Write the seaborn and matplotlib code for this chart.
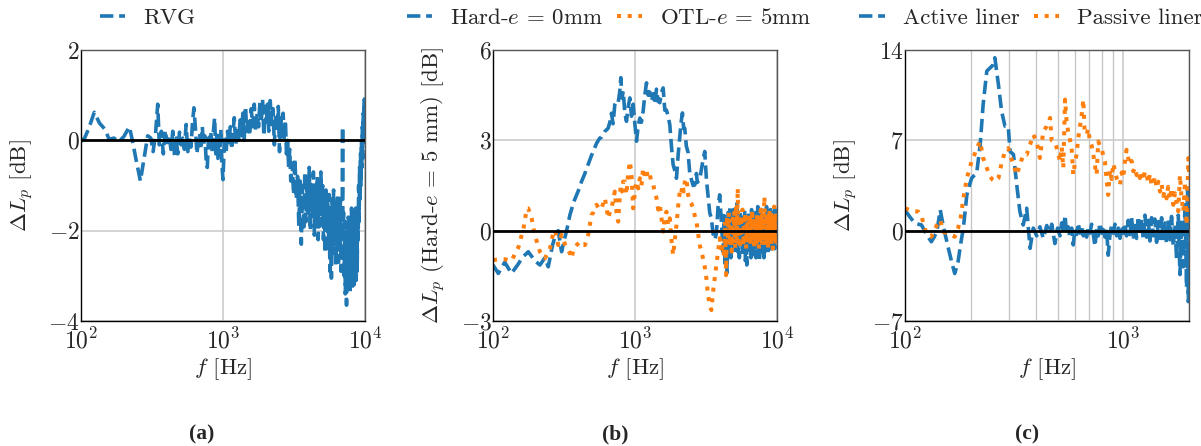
import matplotlib
matplotlib.use("Agg")
import matplotlib.pyplot as plt
import seaborn as sns
from matplotlib.ticker import NullFormatter, FixedLocator

# ---------------- data ----------------
FREQ_A = [
    100, 106, 113, 124, 135, 147, 158, 170, 185, 200,
    219, 230, 245, 262, 278, 295, 310, 322, 335, 347,
    356, 368, 380, 392, 405, 418, 430, 443, 456, 468,
    480, 494, 507, 520, 535, 550, 565, 580, 595, 610,
    624, 640, 655, 670, 685, 700, 715, 730, 745, 760,
    775, 790, 805, 820, 835, 850, 873, 890, 905, 920,
    935, 950, 965, 980, 1000,
    1025, 1050, 1075, 1100, 1125, 1150, 1175, 1200, 1230, 1260,
    1290, 1320, 1350, 1380, 1410, 1440, 1470, 1500, 1540, 1580,
    1620, 1660, 1700, 1740, 1780, 1820, 1860, 1900, 1940, 1980,
    2020, 2060, 2100, 2150, 2200, 2250, 2300, 2350, 2400, 2450,
    2500, 2550, 2600, 2650, 2700, 2750, 2800, 2850, 2900, 2950,
    3000,
    3070, 3140, 3210, 3280, 3350, 3420, 3490, 3560, 3630, 3700,
    3770, 3840, 3910, 3980, 4050, 4120, 4190, 4260, 4330, 4400,
    4470, 4540, 4610, 4680, 4750, 4820, 4890, 4960, 5030, 5100,
    5170, 5240, 5310, 5380, 5450, 5520, 5590, 5660, 5730, 5800,
    5870, 5940, 6010, 6080, 6150, 6220, 6290, 6360, 6430, 6500,
    6570, 6640, 6710, 6780, 6850, 6920, 6955, 6990, 7060, 7130,
    7200, 7270, 7340, 7410, 7480, 7550, 7620, 7690, 7760, 7830,
    7900, 7970, 8040, 8110, 8180, 8250, 8320, 8390, 8460, 8530,
    8600, 8670, 8740, 8810, 8880, 8950, 9020, 9090, 9160, 9230,
    9300, 9370, 9440, 9510, 9580, 9650, 9720, 9790, 9860, 9930,
    10000,
]
DLP_RVG = [
    -0.02, 0.05, 0.25, 0.62, 0.38, 0.25, 0.02, 0.05, -0.02, 0.08,
    0.3, 0.0, -0.45, -0.9, -0.4, 0.1, 0.05, -0.25, 0.15, 0.8,
    -0.1, 0.2, -0.3, 0.22, -0.05, 0.1, -0.2, 0.2, -0.35, 0.05,
    -0.3, 0.18, -0.1, 0.05, -0.2, 0.35, -0.25, 0.1, -0.15, 0.4,
    0.72, 0.25, -0.3, 0.0, 0.15, -0.2, 0.3, -0.1, 0.1, -0.4,
    -0.6, 0.05, -0.15, 0.2, -0.25, 0.1, 0.5, -0.3, 0.15, -0.4,
    0.1, -0.2, 0.25, -0.5, -0.87,
    0.1, -0.3, 0.2, -0.1, 0.3, -0.2, 0.15, 0.5, -0.1, 0.3,
    0.0, 0.45, 0.1, 0.6, 0.0, 0.75, 0.2, 0.5, 0.1, 0.7,
    0.3, 0.8, 0.2, 0.6, 0.3, 0.85, 0.4, 0.9, 0.1, 0.75,
    0.4, 0.8, 0.2, 0.88, 0.35, 0.7, -0.1, 0.6, 0.2, 0.75,
    -0.25, 0.5, 0.1, 0.6, 0.0, 0.45, -0.3, 0.0, -0.6, -0.2,
    -0.9,
    -0.5, -1.2, -0.4, -1.3, -0.8, -1.9, -0.9, -2.3, -1.0, -2.0,
    -0.7, -1.8, -0.9, -1.6, -0.6, -2.0, -1.0, -1.7, -0.7, -2.1,
    -1.1, -1.8, -0.8, -2.2, -1.0, -1.9, -0.7, -1.6, -1.0, -2.2,
    -1.2, -2.5, -1.1, -2.0, -1.3, -2.4, -1.2, -2.9, -1.5, -3.05,
    -1.3, -2.5, -1.1, -2.3, -1.4, -2.8, -1.6, -2.5, -1.2, -2.7,
    -1.5, -2.3, -1.3, -2.9, -1.6, -1.2, 0.3, -2.0, -1.6, -3.0,
    -1.8, -3.4, -2.2, -3.65, -2.0, -3.2, -1.7, -3.0, -1.9, -3.4,
    -2.0, -3.1, -1.5, -3.3, -2.1, -2.9, -1.6, -3.2, -1.9, -3.0,
    -1.5, -3.1, -1.9, -2.9, -1.5, -2.2, -1.0, -1.8, -0.6, -1.3,
    -0.3, -1.0, 0.0, -0.6, 0.3, -0.4, 0.6, 0.1, 0.9, 0.4,
    0.95,
]

FREQ_B = [
    100, 109, 121, 135, 151, 158, 164, 173, 177, 187,
    197, 214, 232, 245, 252, 262, 273, 288, 304, 318,
    330, 348, 357, 370, 388, 409, 420, 444, 456, 468,
    494, 508, 536, 566, 581, 614, 647, 665, 683, 700,
    721, 741, 761, 780, 795, 810, 826, 848, 871, 895,
    920, 945, 971, 1000, 1025, 1054, 1082, 1110, 1141, 1173,
    1205, 1238, 1272, 1307, 1343, 1380, 1417, 1456, 1495, 1536,
    1578, 1622, 1666, 1712, 1758, 1806, 1856, 1907, 1959, 2012,
    2067, 2112, 2158, 2200, 2241, 2300, 2365, 2430, 2496, 2565,
    2636, 2708, 2745, 2858, 2975, 3098, 3184, 3260, 3359, 3452,
    3545, 3640, 3741, 3845, 3949, 4060, 4170,
    4240, 4310, 4380, 4450, 4520, 4590, 4660, 4730, 4800, 4870,
    4940, 5010, 5080, 5150, 5220, 5290, 5360, 5430, 5500, 5570,
    5640, 5710, 5780, 5850, 5920, 5990, 6060, 6130, 6200, 6270,
    6340, 6410, 6480, 6550, 6620, 6690, 6760, 6830, 6900, 6970,
    7040, 7110, 7180, 7250, 7320, 7390, 7460, 7530, 7600, 7670,
    7740, 7810, 7880, 7950, 8020, 8090, 8160, 8230, 8300, 8370,
    8440, 8510, 8580, 8650, 8720, 8790, 8860, 8930, 9000, 9070,
    9140, 9210, 9280, 9350, 9420, 9490, 9560, 9630, 9700, 9770,
    9840, 9910, 9980, 10000,
]
DLP_HARD = [
    -1.14, -1.42, -1.05, -1.42, -1.1, -0.95, -0.85, -0.75, -0.7, -0.85,
    -1.0, -1.14, -0.9, -1.2, -0.9, -0.5, -0.2, 0.0, -0.7, -0.3,
    0.0, 0.52, 0.7, 0.95, 1.19, 1.45, 1.63, 1.9, 2.08, 2.2,
    2.5, 2.63, 2.9, 3.08, 3.1, 3.3, 3.4, 3.6, 3.9, 3.55,
    4.19, 4.3, 4.25, 4.6, 5.08, 4.4, 4.63, 3.9, 3.63, 4.1,
    4.41, 3.8, 4.2, 3.5, 2.97, 3.5, 3.74, 3.6, 3.97, 4.5,
    4.91, 4.5, 4.6, 4.3, 4.55, 4.2, 4.7, 4.3, 4.25, 4.6,
    4.74, 4.0, 4.0, 3.8, 3.52, 2.8, 2.19, 2.0, 1.74, 2.5,
    3.1, 3.6, 3.91, 3.4, 3.4, 2.8, 2.6, 1.9, 1.7, 1.5,
    1.52, 1.9, 1.6, 1.7, 2.2, 2.63, 1.7, 1.2, 0.6, 0.4,
    -0.1, -0.3, -0.1, 0.8, 1.19, 0.3, -0.7,
    0.5, -1.2, 0.2, -1.4, 0.6, -0.6, 0.8, -0.9, 0.3, -0.5,
    0.7, -0.8, 0.4, -0.6, 0.9, -0.7, 0.2, -0.9, 0.6, -0.4,
    0.5, -0.8, 0.3, -0.6, 0.7, -1.0, 0.4, -1.14, 0.5, -0.7,
    0.6, -0.5, 0.3, -0.9, 0.7, -0.6, 0.4, -0.8, 0.2, -0.5,
    0.6, -0.9, 0.3, -0.7, 0.8, -0.4, 0.5, -1.0, 0.3, -0.6,
    0.7, -0.8, 0.4, -0.5, 0.6, -0.9, 0.2, -0.7, 0.5, -0.4,
    0.8, -0.6, 0.3, -0.8, 0.6, -0.5, 0.4, -0.7, 0.7, -0.3,
    0.5, -0.6, 0.4, -0.5, 0.6, -0.4, 0.3, -0.6, 0.7, -0.3,
    0.5, -0.4, 0.4, 0.2,
]
DLP_OTL = [
    -0.98, -0.95, -0.95, -1.0, -0.55, -0.2, 0.08, 0.74, 0.74, 0.41,
    -0.14, -0.7, -0.92, -0.7, -0.59, -0.2, 0.02, -0.48, -0.14, -0.4,
    -0.59, -0.75, -0.92, -0.6, -0.48, -0.37, -0.45, -0.48, -0.3, -0.14,
    0.52, 0.6, 0.86, 0.7, 0.74, 1.08, 0.41, 0.6, 0.74, 1.0,
    1.3, 0.6, 0.3, 1.1, 1.52, 1.3, 1.63, 1.63, 1.2, 1.9,
    2.3, 1.86, 0.74, 1.3, 1.63, 1.4, 1.74, 1.5, 2.08, 1.8,
    1.97, 1.75, 1.86, 1.6, 1.52, 1.3, 1.08, 0.7, 0.86, 0.4,
    -0.03, 0.5, 0.63, 0.2, 0.41, -0.3, -0.81, -0.3, 0.19, 0.8,
    1.3, 1.2, 1.52, 1.3, 1.6, 1.74, 1.2, 0.97, 0.9, 0.74,
    0.5, 0.3, 0.1, -0.48, -0.8, -1.2, -1.59, -2.1, -2.48, -2.64,
    -2.03, -1.6, -1.14, -0.7, -0.25, -0.6, -0.48,
    -0.9, 0.3, -1.48, 0.5, -0.3, 0.6, -0.5, 0.2, -0.7, 0.4,
    -0.2, 0.6, -0.6, 0.9, -0.3, 1.41, -0.4, 0.5, -0.6, 0.3,
    -0.2, 0.7, -0.5, 0.4, -0.3, 0.6, -0.6, 0.2, -0.4, 0.5,
    -0.2, 0.6, -0.5, 0.3, -0.3, 0.7, -0.4, 0.4, -0.6, 0.2,
    -0.3, 0.5, -0.5, 0.6, -0.2, 0.4, -0.6, 0.3, -0.4, 0.7,
    -0.3, 0.5, -0.5, 0.4, -0.2, 0.6, 1.13, -0.4, 0.3, -0.5,
    0.6, -0.3, 0.4, -0.6, 0.5, -0.2, 0.7, -0.4, 0.3, -0.5,
    0.6, -0.3, 0.4, -0.6, 0.5, -0.2, 0.8, -0.4, 0.3, -0.5,
    0.6, -0.3, 0.5, 0.2,
]

FREQ_C = [
    100, 105, 111, 115, 119, 126, 132, 136, 140, 145,
    150, 158, 164, 169, 175, 180, 185, 192, 198, 202,
    208, 213, 221, 228, 237, 245, 252, 258, 268, 277,
    287, 297, 303, 314, 325, 336, 348,
    361, 374, 387, 401, 415, 430, 446, 462, 470, 486,
    500, 513, 522, 531, 541, 550, 559, 570, 580, 590,
    600, 611, 622, 633, 645, 656, 665, 679, 691, 703,
    716, 729, 742, 755, 768, 781, 795, 810, 824, 838,
    853, 869, 884, 900, 916, 932, 949, 966, 983, 1000,
    1018, 1035, 1054, 1073, 1092, 1111, 1131, 1151, 1171, 1192,
    1213, 1235, 1257, 1279, 1302, 1325, 1348, 1372, 1396, 1421,
    1446, 1472, 1498, 1524, 1551, 1578, 1606, 1635, 1664, 1694,
    1724, 1754, 1786, 1818, 1850, 1884, 1917, 1950, 1970, 1986,
    2000,
]
DLP_ACTIVE = [
    1.6, 1.09, 0.57, 0.5, 0.44, -0.34, -0.86, -0.5, -0.08, 1.61,
    0.31, -1.37, -2.5, -3.32, -2.41, -1.0, 0.18, 2.77, 3.6, 4.07,
    4.3, 4.46, 6.66, 9.77, 12.37, 12.6, 12.8, 13.4, 11.3, 9.26,
    8.1, 8.1, 6.14, 5.9, 3.55, 1.48, 0.44,
    1.74, -1.37, 0.2, -0.4, 0.3, -0.6, 0.4, -0.2, 0.5, -1.0,
    0.2, -0.4, 0.6, -0.2, 1.2, -0.3, 0.3, -0.5, 0.2, -1.1,
    0.1, -0.3, 0.6, -0.2, 0.4, -0.4, 0.2, -0.5, 0.3, -0.2,
    0.5, -0.3, -1.2, 0.2, -0.4, 0.6, -0.2, 0.3, -0.5, 0.2,
    -1.9, -0.3, 0.4, -0.2, 0.5, -0.4, 0.2, -0.6, 0.4, -0.2,
    0.6, -0.4, 0.8, -0.3, 1.0, -0.5, 0.7, -0.6, 1.1, -0.4,
    0.9, -0.7, 1.2, -0.5, 0.8, -0.8, 1.0, -0.4, 0.9, -0.9,
    0.7, -0.6, 1.0, -0.8, 0.6, -1.0, 0.8, -0.7, 1.1, -1.2,
    0.5, -2.2, 1.2, -3.4, 0.8, -2.8, 2.0, -4.4, 3.3, -5.5,
    -2.0,
]
DLP_PASSIVE = [
    1.74, 1.6, 1.5, 1.48, 1.1, -0.34, -0.47, 0.0, 0.44, 0.83,
    -0.1, -0.2, -0.35, -0.47, 0.18, 1.0, 2.51, 4.07, 4.85, 5.4,
    5.89, 6.4, 6.92, 5.63, 4.85, 4.2, 3.94, 3.81, 4.07, 5.24,
    6.14, 6.4, 5.89, 5.1, 4.33, 5.1, 5.89,
    5.89, 6.66, 7.44, 6.9, 5.63, 7.7, 8.09, 8.74, 7.0, 6.9,
    6.2, 5.37, 6.5, 4.85, 10.16, 8.48, 7.7, 7.0, 6.4, 4.33,
    5.2, 5.9, 7.2, 8.09, 9.0, 10.16, 7.7, 7.44, 7.9, 6.9,
    6.6, 5.89, 5.0, 4.33, 6.92, 6.6, 6.4, 5.8, 5.37, 4.0,
    2.77, 4.7, 4.0, 5.2, 4.6, 4.07, 3.7, 3.55, 4.5, 4.07,
    5.4, 6.27, 5.6, 5.1, 5.4, 4.6, 4.9, 4.3, 4.6, 4.07,
    4.5, 3.9, 4.6, 4.33, 3.7, 4.4, 3.5, 3.55, 4.2, 3.3,
    3.8, 3.03, 3.6, 2.7, 3.1, 2.5, 3.4, 2.4, 3.3, 2.0,
    2.9, 2.2, 1.5, 4.3, 2.5, 1.48, 3.8, 0.44, 3.0, 5.63,
    4.5,
]

YTICKS_A = [-4, -2, 0, 2]
YTICKS_B = [-3, 0, 3, 6]
YTICKS_C = [-7, 0, 7, 14]
XLIM_A = (100, 10000)
XLIM_B = (100, 10000)
XLIM_C = (100, 2000)

LABEL_RVG = "RVG"
LABEL_HARD = r"Hard-$e$ = 0mm"
LABEL_OTL = r"OTL-$e$ = 5mm"
LABEL_ACTIVE = "Active liner"
LABEL_PASSIVE = "Passive liner"
YLABEL_A = r"$\Delta L_p$ [dB]"
YLABEL_B = r"$\Delta L_p$ (Hard-$e$ = 5 mm) [dB]"
YLABEL_C = r"$\Delta L_p$ [dB]"
XLABEL = r"$f$ [Hz]"
SUBCAPTIONS = ["(a)", "(b)", "(c)"]

# ---------------- style ----------------
sns.set_theme(style="white")
plt.rcParams.update({
    "font.family": ["cmr10", "DejaVu Serif"],
    "mathtext.fontset": "cm",
    "axes.formatter.use_mathtext": True,
    "axes.unicode_minus": True,
    "font.size": 16.5,
})

BLUE = "#1f77b4"
ORANGE = "#ff7f0e"
W, H = 1201, 446
fig = plt.figure(figsize=(W / 100, H / 100), dpi=100)

lefts = [81, 493, 905]
ax_w, top, bottom = 284, 50, 321
axes = [fig.add_axes([l / W, 1 - bottom / H, ax_w / W, (bottom - top) / H]) for l in lefts]
ax_a, ax_b, ax_c = axes


def plot_series(ax, f, v, color, ls, label):
    lw = 2.6 if ls == "--" else 2.9
    sns.lineplot(x=f, y=v, ax=ax, color=color, linestyle=ls, linewidth=lw,
                 label=label, estimator=None, sort=False, zorder=2)


plot_series(ax_a, FREQ_A, DLP_RVG, BLUE, "--", LABEL_RVG)
plot_series(ax_b, FREQ_B, DLP_HARD, BLUE, "--", LABEL_HARD)
plot_series(ax_b, FREQ_B, DLP_OTL, ORANGE, ":", LABEL_OTL)
plot_series(ax_c, FREQ_C, DLP_ACTIVE, BLUE, "--", LABEL_ACTIVE)
plot_series(ax_c, FREQ_C, DLP_PASSIVE, ORANGE, ":", LABEL_PASSIVE)


def style(ax, xlim, yticks, ylabel, legend_cx, minor_grid):
    ax.set_xscale("log")
    ax.set_xlim(*xlim)
    ax.set_ylim(yticks[0], yticks[-1])
    ax.yaxis.set_major_locator(FixedLocator(yticks))
    ax.xaxis.set_minor_formatter(NullFormatter())
    ax.axhline(0, color="black", lw=2.0, zorder=3)
    ax.grid(True, which="major", color="#c8c8c8", lw=1.1, zorder=0)
    if minor_grid:
        ax.grid(True, which="minor", axis="x", color="#c8c8c8", lw=1.0, zorder=0)
    ax.set_axisbelow(True)
    ax.tick_params(axis="both", which="both", length=0, labelsize=17)
    ax.tick_params(axis="y", pad=1)
    ax.tick_params(axis="x", pad=5)
    for s in ["top", "right"]:
        ax.spines[s].set_color("#555555")
        ax.spines[s].set_linewidth(1.0)
    for s in ["left", "bottom"]:
        ax.spines[s].set_color("black")
        ax.spines[s].set_linewidth(1.0)
    ax.set_xlabel(XLABEL, fontsize=16.5)
    ax.set_ylabel(ylabel, fontsize=16.5)
    ax.yaxis.set_label_coords(-0.158, 0.5)
    ax.xaxis.set_label_coords(0.5, -0.13)
    ax.legend(loc="center", bbox_to_anchor=(legend_cx / W, 1 - 18 / H),
              bbox_transform=fig.transFigure, ncol=2, frameon=False,
              handlelength=1.1, handletextpad=0.8, columnspacing=0.6,
              fontsize=16.5, borderaxespad=0, borderpad=0)


style(ax_a, XLIM_A, YTICKS_A, YLABEL_A, 148, False)
style(ax_b, XLIM_B, YTICKS_B, YLABEL_B, 609, False)
style(ax_c, XLIM_C, YTICKS_C, YLABEL_C, 1031, True)

for cx, cap in zip([202, 615, 1027], SUBCAPTIONS):
    fig.text(cx / W, 1 - 434 / H, cap, ha="center", va="center",
             family=["Liberation Serif", "DejaVu Serif"], fontweight="bold",
             fontsize=15.5)

fig.savefig("out.png", dpi=100)
